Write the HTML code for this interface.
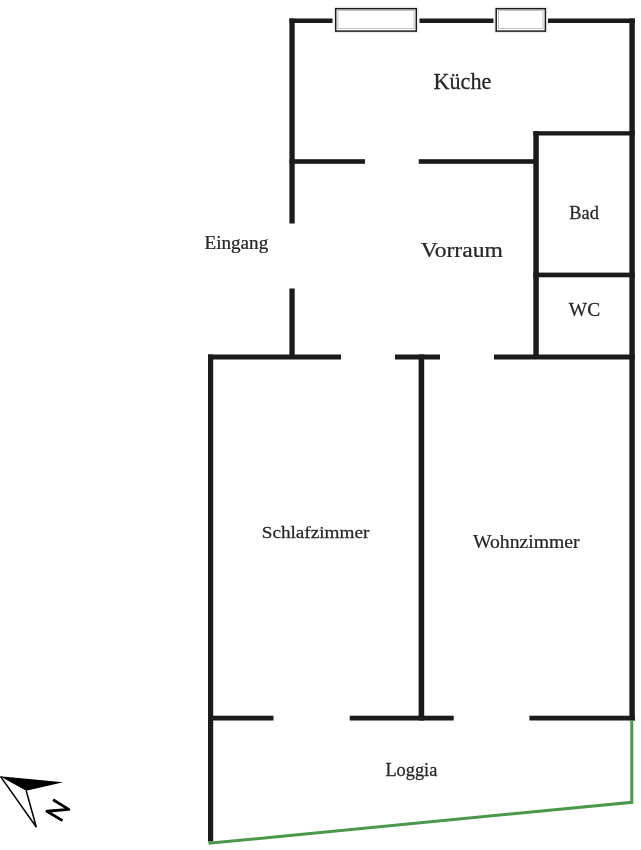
<!DOCTYPE html>
<html><head><meta charset="utf-8">
<style>
html,body{margin:0;padding:0;background:#fff;}
body{width:641px;height:850px;overflow:hidden;position:relative;}
svg{position:absolute;left:0;top:0;will-change:transform;}
text{font-family:"Liberation Serif",serif;fill:#262626;stroke:#262626;stroke-width:0.25px;}
</style></head><body>
<svg width="641" height="850" viewBox="0 0 641 850">
<g fill="#1b1b1b">
<!-- top wall -->
<rect x="289.5" y="18.5" width="43" height="4.5"/>
<rect x="419.5" y="18.5" width="74" height="4.5"/>
<rect x="548" y="18.5" width="86.8" height="4.5"/>
<!-- left kitchen wall -->
<rect x="289.4" y="18.5" width="5.3" height="205"/>
<rect x="289.4" y="288.5" width="5.3" height="70"/>
<!-- right wall -->
<rect x="629.4" y="18.5" width="5.4" height="702"/>
<!-- kueche/vorraum -->
<rect x="289.5" y="159.2" width="75.5" height="4.6"/>
<rect x="418.7" y="159.2" width="119" height="4.6"/>
<!-- bad box -->
<rect x="533.3" y="131.2" width="5.5" height="227.8"/>
<rect x="533.3" y="131.2" width="101.5" height="4.3"/>
<rect x="533.3" y="272.6" width="101.5" height="4.7"/>
<!-- middle horizontal -->
<rect x="208" y="354.5" width="133" height="5"/>
<rect x="395" y="354.5" width="45" height="5"/>
<rect x="494" y="354.5" width="140.8" height="5"/>
<!-- left wall schlafzimmer -->
<rect x="208" y="354.5" width="5.2" height="487"/>
<!-- middle vertical -->
<rect x="418.6" y="354.5" width="5.6" height="366"/>
<!-- loggia wall -->
<rect x="208" y="715.7" width="65.5" height="4.8"/>
<rect x="349.7" y="715.7" width="104" height="4.8"/>
<rect x="529.4" y="715.7" width="105.4" height="4.8"/>
</g>
<!-- green loggia outline -->
<polyline points="631.8,720 631.8,802.3 208.5,843.3" fill="none" stroke="#4a984a" stroke-width="3"/>
<!-- windows -->
<rect x="334" y="7" width="84" height="25.4" fill="none" stroke="#ececec" stroke-width="1"/>
<rect x="335.7" y="8.7" width="80.6" height="22.4" fill="#fff" stroke="#1b1b1b" stroke-width="1.5"/>
<rect x="338" y="10.5" width="76" height="18" fill="none" stroke="#bdbdbd" stroke-width="0.9"/>
<rect x="494.5" y="7" width="52.6" height="25.4" fill="none" stroke="#ececec" stroke-width="1"/>
<rect x="496.2" y="8.7" width="49.2" height="22.4" fill="#fff" stroke="#1b1b1b" stroke-width="1.5"/>
<rect x="498.5" y="10.5" width="44.5" height="18" fill="none" stroke="#bdbdbd" stroke-width="0.9"/>
<!-- labels -->
<text transform="translate(433.52,88.73) scale(0.9672,1)" font-size="22.93">Küche</text>
<text transform="translate(420.68,256.51) scale(1.0795,1)" font-size="21.87">Vorraum</text>
<text transform="translate(204.45,249.47) scale(0.9861,1)" font-size="19.41">Eingang</text>
<text transform="translate(569.34,219.25) scale(1.0197,1)" font-size="17.94">Bad</text>
<text transform="translate(568.80,315.88) scale(0.9829,1)" font-size="19.77">WC</text>
<text transform="translate(261.72,538.36) scale(1.1045,1)" font-size="17.38">Schlafzimmer</text>
<text transform="translate(473.00,548.30) scale(1.0235,1)" font-size="19.22">Wohnzimmer</text>
<text transform="translate(385.39,775.51) scale(0.9366,1)" font-size="19.60">Loggia</text>
<!-- compass -->
<polygon points="0,776.2 63.1,782.2 26.2,790.8" fill="#000"/>
<polyline points="0.5,776.5 36.4,827.3 26.2,790.8" fill="none" stroke="#000" stroke-width="1.5" stroke-linejoin="miter"/>
<polyline points="53.1,799.8 68.75,809.4 46.9,811.25 62.5,820.6" fill="none" stroke="#000" stroke-width="2.8" stroke-linejoin="round"/>
</svg>
</body></html>
